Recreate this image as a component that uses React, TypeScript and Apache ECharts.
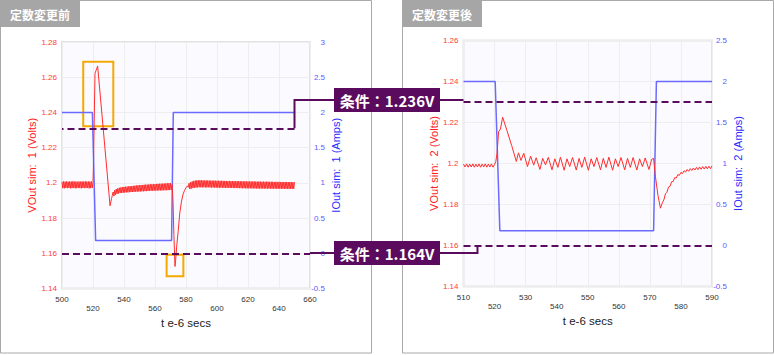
import React, { useEffect, useRef } from "react";
import * as echarts from "echarts";

// ---------- texts ----------
const panelTitles = ["定数変更前", "定数変更後"];
const limitLabels = ["条件：1.236V", "条件：1.164V"];
const xName = "t e-6 secs";
const vNames = ["VOut sim:  1 (Volts)", "VOut sim:  2 (Volts)"];
const iNames = ["IOut sim:  1 (Amps)", "IOut sim:  2 (Amps)"];

// limit lines (as drawn in the picture)
const limitHigh = 1.231;
const limitLow = 1.16;

// ---------- left chart (before) : voltage ----------
const v1Before: number[][] = [
  [500, 1.2006], [500.5, 1.197], [501, 1.2008], [501.5, 1.1969], [502, 1.2007], [502.5, 1.1971],
  [503, 1.2008], [503.5, 1.197], [504, 1.2006], [504.5, 1.1971], [505, 1.2008], [505.5, 1.1969],
  [506, 1.2007], [506.5, 1.197], [507, 1.2009], [507.5, 1.1971], [508, 1.2007], [508.5, 1.1969],
  [509, 1.2008], [509.5, 1.197], [510, 1.2006], [510.5, 1.1971], [511, 1.2008], [511.5, 1.197],
  [512, 1.2007], [512.5, 1.1969], [513, 1.2008], [513.5, 1.1971], [514, 1.2007], [514.5, 1.197],
  [515, 1.2009], [515.5, 1.197], [516, 1.2007], [516.5, 1.1971], [517, 1.2008], [517.5, 1.1969],
  [518, 1.2007], [518.5, 1.197], [519, 1.2008], [519.5, 1.1971], [520, 1.2002],
];
const v1Spike: number[][] = [
  [520.4, 1.215], [521.3, 1.2622], [523.0, 1.2663], [531.0, 1.187],
];
const v1Settle: number[][] = [
  [532, 1.1912], [532.5, 1.193], [533, 1.1948], [533.5, 1.1925], [534, 1.1958], [534.5, 1.1932],
  [535, 1.1965], [535.5, 1.1937], [536, 1.1969], [536.5, 1.194], [537, 1.1972], [537.5, 1.1942],
  [538, 1.1974], [538.5, 1.1943], [539, 1.1976], [539.5, 1.1944], [540, 1.1977], [540.5, 1.1945],
  [541, 1.1978], [541.5, 1.1946], [542, 1.1979], [542.5, 1.1946], [543, 1.198], [543.5, 1.1947],
  [544, 1.1981], [544.5, 1.1948], [545, 1.1982], [545.5, 1.1948], [546, 1.1983], [546.5, 1.1949],
  [547, 1.1984], [547.5, 1.195], [548, 1.1985], [548.5, 1.195], [549, 1.1986], [549.5, 1.1951],
  [550, 1.1987], [550.5, 1.1951], [551, 1.1988], [551.5, 1.1952], [552, 1.1988], [552.5, 1.1952],
  [553, 1.1989], [553.5, 1.1953], [554, 1.199], [554.5, 1.1953], [555, 1.199], [555.5, 1.1954],
  [556, 1.1991], [556.5, 1.1954], [557, 1.1992], [557.5, 1.1955], [558, 1.1992], [558.5, 1.1955],
  [559, 1.1993], [559.5, 1.1956], [560, 1.1993], [560.5, 1.1956], [561, 1.1994], [561.5, 1.1956],
  [562, 1.1994], [562.5, 1.1957], [563, 1.1995], [563.5, 1.1957], [564, 1.1995], [564.5, 1.1957],
  [565, 1.1996], [565.5, 1.1958], [566, 1.1996], [566.5, 1.1958], [567, 1.1997], [567.5, 1.1958],
  [568, 1.1997], [568.5, 1.1959], [569, 1.1998], [569.5, 1.1959], [570, 1.1998], [570.5, 1.196],
  [571, 1.199],
];
const v1Dip: number[][] = [
  [571.6, 1.19], [572.2, 1.17], [572.9, 1.1525], [573.3, 1.156], [574, 1.164], [575, 1.173],
  [576, 1.183], [577, 1.189], [578, 1.1932], [579, 1.1956], [580, 1.1972], [581, 1.1983],
];
const v1Late: number[][] = [
  [581.5, 1.1975], [582, 1.1998], [582.5, 1.1965], [583, 1.2004], [583.5, 1.1968], [584, 1.2008],
  [584.5, 1.197], [585, 1.2011], [585.5, 1.1972], [586, 1.2013], [586.5, 1.1973], [587, 1.2014],
  [587.5, 1.1974], [588, 1.2014], [588.5, 1.1975], [589, 1.2015], [589.5, 1.1975], [590, 1.2014],
  [590.5, 1.1974], [591, 1.2014], [591.5, 1.1975], [592, 1.2013], [592.5, 1.1974], [593, 1.2014],
  [593.5, 1.1974], [594, 1.2013], [594.5, 1.1975], [595, 1.2013], [595.5, 1.1974], [596, 1.2013],
  [596.5, 1.1973], [597, 1.2012], [597.5, 1.1974], [598, 1.2013], [598.5, 1.1973], [599, 1.2012],
  [599.5, 1.1973], [600, 1.2012], [600.5, 1.1973], [601, 1.2012], [601.5, 1.1972], [602, 1.2011],
  [602.5, 1.1973], [603, 1.2012], [603.5, 1.1972], [604, 1.2011], [604.5, 1.1972], [605, 1.2011],
  [605.5, 1.1972], [606, 1.2011], [606.5, 1.1971], [607, 1.201], [607.5, 1.1972], [608, 1.2011],
  [608.5, 1.1971], [609, 1.201], [609.5, 1.1971], [610, 1.201], [610.5, 1.1971], [611, 1.201],
  [611.5, 1.197], [612, 1.2009], [612.5, 1.1971], [613, 1.201], [613.5, 1.197], [614, 1.2009],
  [614.5, 1.197], [615, 1.2009], [615.5, 1.197], [616, 1.2009], [616.5, 1.1969], [617, 1.2008],
  [617.5, 1.197], [618, 1.2009], [618.5, 1.1969], [619, 1.2008], [619.5, 1.1969], [620, 1.2008],
  [620.5, 1.1969], [621, 1.2008], [621.5, 1.1969], [622, 1.2008], [622.5, 1.1968], [623, 1.2007],
  [623.5, 1.1969], [624, 1.2008], [624.5, 1.1968], [625, 1.2007], [625.5, 1.1968], [626, 1.2007],
  [626.5, 1.1968], [627, 1.2007], [627.5, 1.1968], [628, 1.2007], [628.5, 1.1968], [629, 1.2006],
  [629.5, 1.1968], [630, 1.2007], [630.5, 1.1967], [631, 1.2006], [631.5, 1.1968], [632, 1.2007],
  [632.5, 1.1967], [633, 1.2006], [633.5, 1.1968], [634, 1.2006], [634.5, 1.1967], [635, 1.2006],
  [635.5, 1.1967], [636, 1.2006], [636.5, 1.1967], [637, 1.2005], [637.5, 1.1967], [638, 1.2006],
  [638.5, 1.1967], [639, 1.2005], [639.5, 1.1966], [640, 1.2006], [640.5, 1.1967], [641, 1.2005],
  [641.5, 1.1966], [642, 1.2005], [642.5, 1.1967], [643, 1.2005], [643.5, 1.1966], [644, 1.2005],
  [644.5, 1.1966], [645, 1.2005], [645.5, 1.1966], [646, 1.2004], [646.5, 1.1966], [647, 1.2005],
  [647.5, 1.1966], [648, 1.2004], [648.5, 1.1966], [649, 1.2004], [649.5, 1.1966], [650, 1.2004],
];
// left chart : current
const i1: number[][] = [
  [500, 2], [519.6, 2], [521.7, 0.18], [570.7, 0.18], [571.8, 2], [650, 2],
];
// highlighted regions (left chart)
const boxSpike = [[513.7, 1.2688], [533.1, 1.2322]];
const boxDip = [[567.5, 1.1592], [578.3, 1.147]];

// ---------- right chart (after) : voltage ----------
const v2Before: number[][] = [
  [510, 1.1997], [510.5, 1.1983], [511, 1.1998], [511.5, 1.1982], [512, 1.1997], [512.5, 1.1983],
  [513, 1.1998], [513.5, 1.1982], [514, 1.1997], [514.5, 1.1983], [515, 1.1998], [515.5, 1.1982],
  [516, 1.1997], [516.5, 1.1983], [517, 1.1998], [517.5, 1.1982], [518, 1.1997], [518.5, 1.1983],
  [519, 1.1998], [519.5, 1.1982], [520, 1.1995],
];
const v2Spike: number[][] = [
  [520.4, 1.201], [520.8, 1.205], [521.3, 1.2155], [521.9, 1.2168], [522.6, 1.2226],
  [524.0, 1.216], [525.5, 1.2088], [527.0, 1.201],
];
const v2Ripple: number[][] = [
  [527.7, 1.2052], [528.5, 1.2015], [529.4, 1.205], [530.6, 1.1985], [531.6, 1.2036],
  [532.6, 1.1992], [533.4, 1.2028], [534.6, 1.1971], [535.5, 1.2025], [536.4, 1.1993],
  [537.3, 1.203], [538.5, 1.1969], [539.4, 1.2023], [540.4, 1.1981], [541.2, 1.2031],
  [542.4, 1.1967], [543.3, 1.2023], [544.2, 1.1985], [545.1, 1.2029], [546.3, 1.1968],
  [547.2, 1.2025], [548.1, 1.1981], [549.0, 1.2031], [550.2, 1.1967], [551.1, 1.2023],
  [552.0, 1.1985], [552.9, 1.2029], [554.1, 1.1969], [555.0, 1.2025], [555.9, 1.1981],
  [556.8, 1.2031], [558.0, 1.1967], [558.9, 1.2023], [559.8, 1.1985], [560.7, 1.2029],
  [561.9, 1.1969], [562.8, 1.2025], [563.7, 1.1981], [564.6, 1.2029], [565.8, 1.1968],
  [566.7, 1.2023], [567.6, 1.1985], [568.5, 1.2027], [569.7, 1.1971], [570.6, 1.2021],
  [571.2, 1.2025],
];
const v2Dip: number[][] = [
  [571.8, 1.1935], [572.6, 1.1845], [573.4, 1.1782], [574.0, 1.1808], [574.5, 1.1822],
  [575.0, 1.1852], [575.5, 1.186], [576.0, 1.1885], [576.5, 1.1889], [577.0, 1.1911],
  [577.5, 1.1912], [578.0, 1.1931], [578.5, 1.1929], [579.0, 1.1946], [579.5, 1.1942],
  [580.0, 1.1957], [580.5, 1.1951], [581.0, 1.1965], [581.5, 1.1958], [582.0, 1.1971],
  [582.5, 1.1962], [583.0, 1.1975], [583.5, 1.1966], [584.0, 1.1978], [584.5, 1.1968],
  [585.0, 1.1981], [585.5, 1.197], [586.0, 1.1983], [586.5, 1.1972], [587.0, 1.1985],
  [587.5, 1.1973], [588.0, 1.1986], [588.5, 1.1974], [589.0, 1.1987], [589.5, 1.1975],
  [590.0, 1.1988],
];
// right chart : current
const i2: number[][] = [
  [510, 2], [520.2, 2], [521.7, 0.18], [571.2, 0.18], [572.1, 2], [590, 2],
];

// axis ranges / ticks
const xRange1 = [500, 660, 20];
const xRange2 = [510, 590, 10];
const vRange1 = [1.14, 1.28, 0.02];
const vRange2 = [1.14, 1.26, 0.02];
const iRange1 = [-0.5, 3, 0.5];
const iRange2 = [-0.5, 2.5, 0.5];

// ---------- styles ----------
const RED = "#ff2d2d";
const BLUE = "#6a6aff";
const PURPLE = "#5b0b5e";
const ORANGE = "#f5a800";
const LAB_FONT = '"Liberation Sans", Arial, sans-serif';
const JP_FONT = '"Noto Sans CJK JP", "Noto Sans", sans-serif';

function makeXAxis(gi: number, r: number[]) {
  return {
    type: "value",
    gridIndex: gi,
    min: r[0],
    max: r[1],
    interval: r[2],
    name: xName,
    nameLocation: "middle",
    nameGap: 26,
    nameTextStyle: { color: "#222", fontSize: 11.5, fontFamily: LAB_FONT, verticalAlign: "top" },
    axisLine: { show: false },
    axisTick: { show: false },
    axisLabel: {
      color: "#333",
      fontSize: 8,
      fontFamily: LAB_FONT,
      margin: 6,
      lineHeight: 9,
      formatter: (v: number, i: number) => (i % 2 === 1 ? "\n" + v : "" + v),
    },
    splitLine: { show: true, lineStyle: { color: "#eeeeee", width: 1 } },
  };
}

function makeYAxis(gi: number, r: number[], name: string, side: "left" | "right") {
  const left = side === "left";
  return {
    type: "value",
    gridIndex: gi,
    position: side,
    min: r[0],
    max: r[1],
    interval: r[2],
    name,
    nameLocation: "middle",
    nameGap: 20,
    nameTextStyle: { color: left ? "#ff2020" : "#2a2aff", fontSize: 11, fontFamily: LAB_FONT },
    axisLine: { show: false },
    axisTick: { show: false },
    axisLabel: {
      color: left ? "#ff3b3b" : "#5a5aff",
      fontSize: 8,
      fontFamily: LAB_FONT,
      margin: left ? 5 : 15,
      align: "right",
    },
    splitLine: { show: left, lineStyle: { color: "#eeeeee", width: 1 } },
  };
}

function lineSeries(xi: number, yi: number, data: number[][], color: string, width: number, extra: any = {}) {
  return {
    type: "line",
    xAxisIndex: xi,
    yAxisIndex: yi,
    data,
    showSymbol: false,
    symbol: "none",
    silent: true,
    lineStyle: { color, width },
    ...extra,
  };
}

const dashStyle = { color: PURPLE, width: 2, type: [7, 4] };

export default function App() {
  const ref = useRef<HTMLDivElement>(null);

  useEffect(() => {
    if (!ref.current) return;
    const chart = echarts.init(ref.current, undefined, { renderer: "svg" });

    const v1 = [...v1Before, ...v1Spike, ...v1Settle, ...v1Dip, ...v1Late];
    const v2 = [...v2Before, ...v2Spike, ...v2Ripple, ...v2Dip];

    chart.setOption({
      animation: false,
      backgroundColor: "#ffffff",
      grid: [
        { left: 62, top: 42, width: 248, height: 246.5, show: true, backgroundColor: "#fbfbff", borderColor: "#e3e3e3", borderWidth: 2 },
        { left: 463.5, top: 40.5, width: 248.5, height: 246, show: true, backgroundColor: "#fbfbff", borderColor: "#e3e3e3", borderWidth: 2 },
      ],
      xAxis: [makeXAxis(0, xRange1), makeXAxis(1, xRange2)],
      yAxis: [
        makeYAxis(0, vRange1, vNames[0], "left"),
        makeYAxis(0, iRange1, iNames[0], "right"),
        makeYAxis(1, vRange2, vNames[1], "left"),
        makeYAxis(1, iRange2, iNames[1], "right"),
      ],
      series: [
        lineSeries(0, 1, i1, BLUE, 1.5),
        lineSeries(0, 0, v1, RED, 1, {
          markLine: {
            silent: true,
            symbol: "none",
            label: { show: false },
            lineStyle: dashStyle,
            data: [
              [{ coord: [v1Late[v1Late.length - 1][0], limitHigh] }, { coord: [xRange1[0], limitHigh] }],
              [{ coord: [xRange1[0], limitLow] }, { coord: [xRange1[1], limitLow] }],
            ],
          },
          markArea: {
            silent: true,
            itemStyle: { color: "rgba(0,0,0,0)", borderColor: ORANGE, borderWidth: 2 },
            data: [
              [{ coord: boxSpike[0] }, { coord: boxSpike[1] }],
              [{ coord: boxDip[0] }, { coord: boxDip[1] }],
            ],
          },
        }),
        lineSeries(1, 3, i2, BLUE, 1.5),
        lineSeries(1, 2, v2, RED, 1, {
          markLine: {
            silent: true,
            symbol: "none",
            label: { show: false },
            lineStyle: dashStyle,
            data: [{ yAxis: limitHigh }, { yAxis: limitLow }],
          },
        }),
      ],
    });

    // annotation geometry from the chart scales
    const pHiL = chart.convertToPixel({ seriesIndex: 1 }, [v1Late[v1Late.length - 1][0], limitHigh]) as number[];
    const pLoL = chart.convertToPixel({ seriesIndex: 1 }, [xRange1[1], limitLow]) as number[];
    const pHiR = chart.convertToPixel({ seriesIndex: 3 }, [xRange2[0], limitHigh]) as number[];
    const pLoR = chart.convertToPixel({ seriesIndex: 3 }, [514.5, limitLow]) as number[];

    const boxL = 334;
    const boxW = 106;
    const boxH = 24;
    const hiY = Math.round(pHiR[1]);
    const loY = Math.round(pLoL[1]);

    const box = (cy: number, text: string) => [
      { type: "rect", z: 100, shape: { x: boxL, y: cy - boxH / 2, width: boxW, height: boxH }, style: { fill: PURPLE } },
      {
        type: "text",
        z: 101,
        x: boxL + boxW / 2,
        y: cy + 0.5,
        style: { text, fill: "#ffffff", font: `bold 15px ${JP_FONT}`, align: "center", verticalAlign: "middle" },
      },
    ];
    const conn = (pts: number[][]) => ({
      type: "polyline",
      z: 99,
      shape: { points: pts },
      style: { stroke: PURPLE, lineWidth: 2, fill: null },
    });

    const panel = (x: number, title: string) => [
      { type: "rect", z: -20, shape: { x: x + 0.5, y: 0.5, width: 371, height: 352.5 }, style: { fill: "#ffffff", stroke: "#a9a9a9", lineWidth: 1 } },
      { type: "rect", z: -19, shape: { x, y: 0, width: 80, height: 27 }, style: { fill: "#a6a6a6" } },
      {
        type: "text",
        z: -18,
        x: x + 10,
        y: 14,
        style: { text: title, fill: "#ffffff", font: `bold 12px ${JP_FONT}`, verticalAlign: "middle" },
      },
    ];

    chart.setOption({
      graphic: [
        ...panel(0, panelTitles[0]),
        ...panel(402, panelTitles[1]),
        conn([[pHiL[0], pHiL[1]], [pHiL[0], hiY], [boxL, hiY]]),
        conn([[pLoL[0], loY], [boxL, loY]]),
        conn([[boxL + boxW, hiY], [pHiR[0], hiY]]),
        conn([[boxL + boxW, loY], [pLoR[0], loY], [pLoR[0], pLoR[1]]]),
        ...box(hiY, limitLabels[0]),
        ...box(loY, limitLabels[1]),
      ],
    });

    return () => chart.dispose();
  }, []);

  return (
    <div
      ref={ref}
      style={{ position: "absolute", left: 0, top: 0, width: 774, height: 355 }}
    />
  );
}
